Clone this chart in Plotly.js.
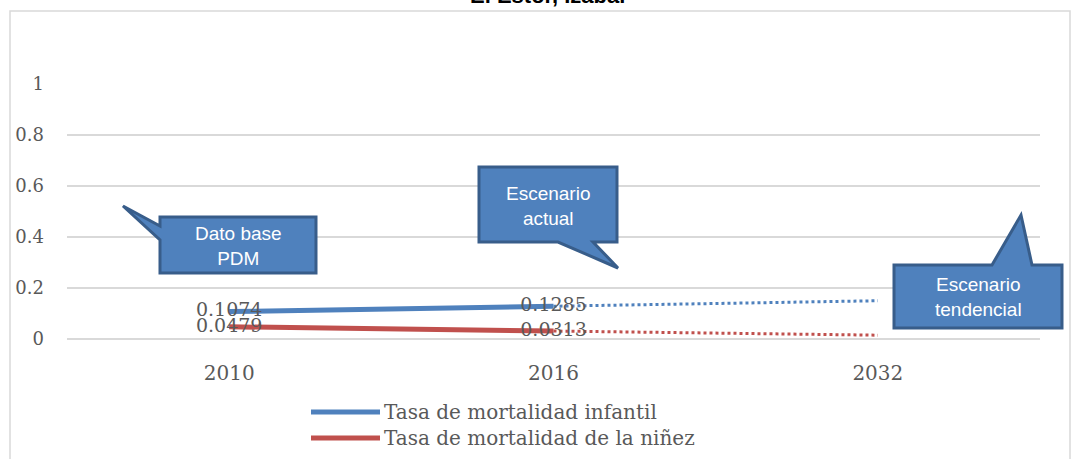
<!DOCTYPE html>
<html>
<head>
<meta charset="utf-8">
<script src="https://cdn.plot.ly/plotly-3.0.1.min.js"></script>
<style>html,body{margin:0;padding:0;background:#fff;}#chart{width:1071px;height:459px;}</style>
</head>
<body>
<div id="chart"></div>
<script>
// ---- data ----
const years = ['2010', '2016', '2032'];
const seriesNames = ['Tasa de mortalidad infantil', 'Tasa de mortalidad de la niñez'];
const infantilActual = [0.1074, 0.1285, null];
const infantilTendencia = [null, 0.1285, 0.15];
const ninezActual = [0.0479, 0.0313, null];
const ninezTendencia = [null, 0.0313, 0.015];
const yTicks = [0, 0.2, 0.4, 0.6, 0.8, 1];
const yTickLabels = ['0', '0.2', '0.4', '0.6', '0.8', '1'];
const titleText = 'El Estor, Izabal';
const calloutTexts = ['Dato base<br>PDM', 'Escenario<br>actual', 'Escenario<br>tendencial'];

// ---- layout geometry (pixels) ----
const W = 1071, H = 459;
const L = 67, R = 1040, T = 84, B = 339;
const px = x => (x - L) / (R - L);
const py = y => (B - y) / (B - T);
const P = pts => 'M' + pts.map(p => px(p[0]).toFixed(5) + ',' + py(p[1]).toFixed(5)).join(' L') + ' Z';

const blue = '#4F81BD', red = '#C0504D', grey = '#595959';
const serif = 'DejaVu Serif, serif';
const sans = 'Liberation Sans, Arial, sans-serif';

const traces = [
  {x: years, y: infantilTendencia, mode: 'lines', line: {color: blue, width: 3, dash: 'dot'}, hoverinfo: 'skip', showlegend: false},
  {x: years, y: ninezTendencia, mode: 'lines', line: {color: red, width: 3, dash: 'dot'}, hoverinfo: 'skip', showlegend: false},
  {x: years, y: infantilActual, name: seriesNames[0], mode: 'lines+text', line: {color: blue, width: 5},
   texttemplate: '%{y}', textposition: 'middle center', textfont: {family: serif, size: 19, color: grey}, showlegend: false},
  {x: years, y: ninezActual, name: seriesNames[1], mode: 'lines+text', line: {color: red, width: 5},
   texttemplate: '%{y}', textposition: 'middle center', textfont: {family: serif, size: 19, color: grey}, showlegend: false}
];

const calloutStyle = {type: 'path', xref: 'paper', yref: 'paper', fillcolor: blue, line: {color: '#385D8A', width: 3}, layer: 'above'};
const shapes = [
  // outer chart border
  {type: 'rect', xref: 'paper', yref: 'paper', x0: px(10), x1: px(1070), y0: py(475), y1: py(11), line: {color: '#D9D9D9', width: 1.5}, layer: 'below'},
  // callouts
  Object.assign({path: P([[160,217],[316,217],[316,273],[160,273],[160,240],[123,206],[160,226]])}, calloutStyle),
  Object.assign({path: P([[479,167],[617,167],[617,242],[593,242],[618,268],[558,242],[479,242]])}, calloutStyle),
  Object.assign({path: P([[894,265],[992,265],[1021,215],[1032,265],[1062,265],[1062,328],[894,328]])}, calloutStyle),
  // legend samples
  {type: 'line', xref: 'paper', yref: 'paper', x0: px(311), x1: px(380), y0: py(412), y1: py(412), line: {color: blue, width: 5}},
  {type: 'line', xref: 'paper', yref: 'paper', x0: px(311), x1: px(380), y0: py(438), y1: py(438), line: {color: red, width: 5}}
];

const annotations = [
  {text: '<b>' + titleText + '</b>', xref: 'paper', yref: 'paper', x: px(547), y: py(-4), xanchor: 'center', yanchor: 'middle', showarrow: false,
   font: {family: sans, size: 22, color: '#000'}},
  {text: calloutTexts[0], xref: 'paper', yref: 'paper', x: px(238), y: py(246), xanchor: 'center', yanchor: 'middle', showarrow: false, font: {family: sans, size: 19, color: '#fff'}},
  {text: calloutTexts[1], xref: 'paper', yref: 'paper', x: px(548), y: py(206), xanchor: 'center', yanchor: 'middle', showarrow: false, font: {family: sans, size: 19, color: '#fff'}},
  {text: calloutTexts[2], xref: 'paper', yref: 'paper', x: px(978), y: py(297), xanchor: 'center', yanchor: 'middle', showarrow: false, font: {family: sans, size: 19, color: '#fff'}},
  {text: seriesNames[0], xref: 'paper', yref: 'paper', x: px(382), y: py(412), xanchor: 'left', yanchor: 'middle', showarrow: false, font: {family: serif, size: 20, color: grey}},
  {text: seriesNames[1], xref: 'paper', yref: 'paper', x: px(382), y: py(438), xanchor: 'left', yanchor: 'middle', showarrow: false, font: {family: serif, size: 20, color: grey}}
];

const layout = {
  width: W, height: H,
  margin: {l: L, r: W - R, t: T, b: H - B, pad: 0},
  paper_bgcolor: '#fff', plot_bgcolor: '#fff',
  showlegend: false,
  xaxis: {type: 'category', categoryorder: 'array', categoryarray: years, range: [-0.5, 2.5], autorange: false,
          showgrid: false, zeroline: false, showline: false,
          ticks: '', ticklabelstandoff: 20, tickfont: {family: serif, size: 20, color: grey}, fixedrange: true},
  yaxis: {range: [0, 1], tickvals: yTicks, ticktext: yTickLabels, showgrid: true, gridcolor: '#D9D9D9', gridwidth: 1.5,
          zeroline: true, zerolinecolor: '#D9D9D9', zerolinewidth: 1.5, showline: false, ticks: '', ticklabelstandoff: 22,
          tickfont: {family: serif, size: 18, color: grey}, fixedrange: true},
  shapes: shapes,
  annotations: annotations
};

Plotly.newPlot('chart', traces, layout, {displayModeBar: false, staticPlot: true});
</script>
</body>
</html>
